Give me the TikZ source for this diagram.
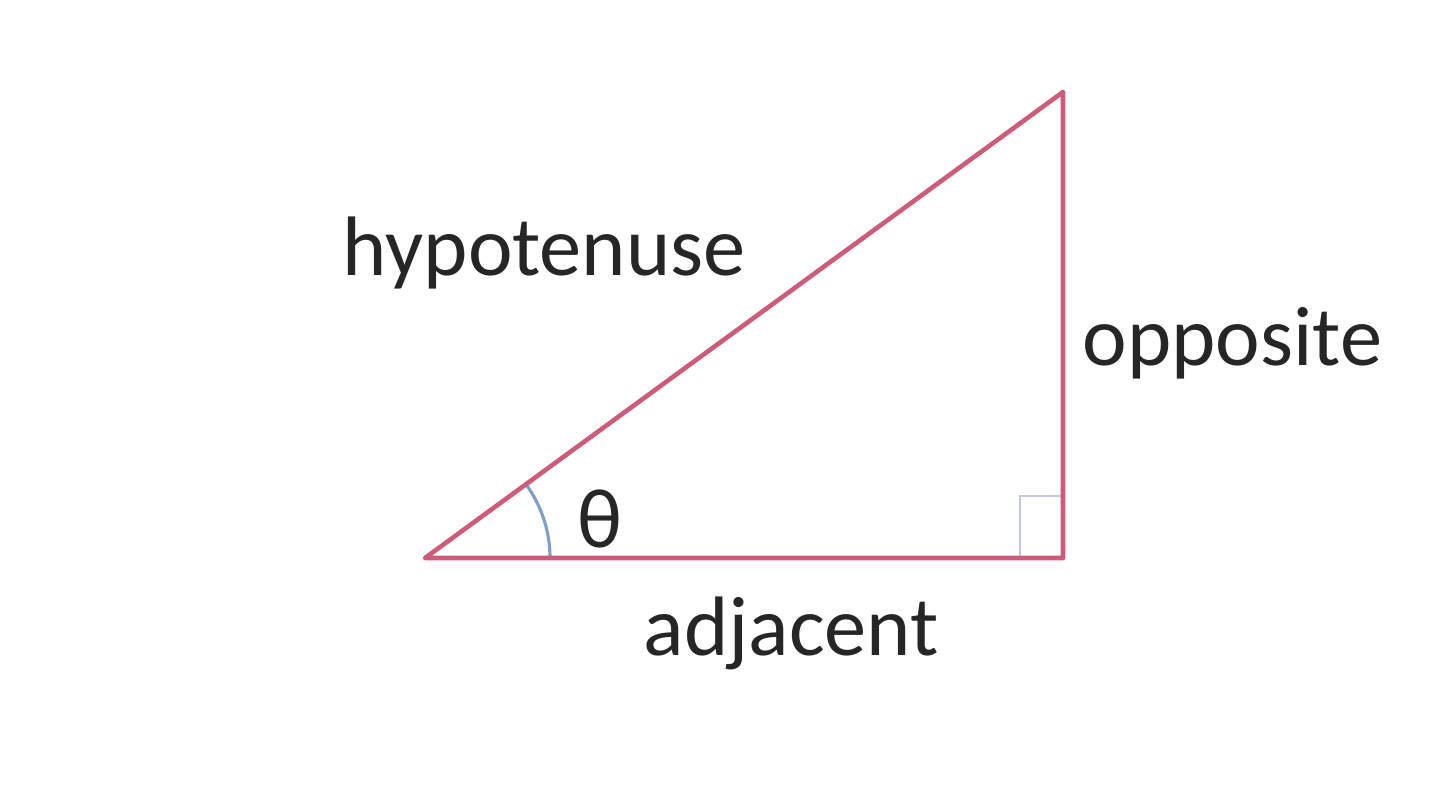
\documentclass[tikz,border=0pt]{standalone}
\usepackage{fontspec}
\setmainfont{Carlito}
\usepackage{tikz}

\definecolor{sidered}{RGB}{204,92,122}
\definecolor{arcblue}{RGB}{128,160,196}
\definecolor{boxgray}{RGB}{196,202,218}
\definecolor{textgray}{RGB}{38,38,38}

\begin{document}
\begin{tikzpicture}[x=0.01cm,y=-0.01cm,
	lbl/.style={draw=none,fill=none,inner sep=0pt,anchor=base west,text=textgray,font=\fontsize{24}{28}\selectfont}]
	
	\useasboundingbox (0,0) rectangle (1440,796);
	
	\coordinate (a) at (425, 558);
	\coordinate (b) at (1063, 558);
	\coordinate (c) at (1063, 92);
	
	\node[lbl] (hyp) at (342, 275)     {hypotenuse};
	\node[lbl] (opp) at (1082, 365)     {opposite};
	\node[lbl] (adj) at (643, 655)     {adjacent};
	\node[lbl] (th) at (577, 547)     {θ};
	
	\draw[boxgray, line width=0.8pt] (1020, 558) -- (1020, 496) -- (1063, 496);
	\draw[arcblue, line width=0.9pt] (550, 558) arc[start angle=0, end angle=-36.1, radius=125];
	
	\path[-, draw=sidered, line width=1.3pt, line join=round] (a) -- (b) -- (c) -- cycle;
	
\end{tikzpicture}
\end{document}
